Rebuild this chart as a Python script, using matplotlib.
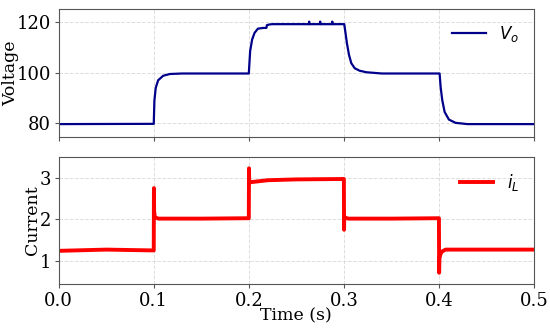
import matplotlib
matplotlib.use("Agg")
import matplotlib.pyplot as plt

# output voltage (time in s, volts)
v_time = [0.0, 0.1, 0.1007, 0.1021, 0.1046, 0.1099, 0.1169, 0.13, 0.2,
          0.2014, 0.2035, 0.206, 0.2095, 0.215, 0.2185, 0.219, 0.222, 0.225,
          0.2634, 0.2635, 0.2636, 0.275, 0.2751, 0.2752, 0.2877, 0.2878, 0.2879,
          0.3004, 0.3018, 0.3032, 0.3054, 0.3078, 0.3114, 0.3166, 0.3236, 0.34,
          0.4007, 0.4018, 0.4035, 0.406, 0.4105, 0.4175, 0.43, 0.5]
v_val = [79.6, 79.7, 89.0, 94.0, 97.0, 98.8, 99.5, 99.7, 99.7,
         108.6, 113.2, 115.8, 117.5, 117.8, 117.8, 118.9, 119.2, 119.3,
         119.3, 120.3, 119.3, 119.3, 120.3, 119.3, 119.3, 120.3, 119.3,
         119.3, 115.6, 111.7, 107.1, 103.8, 101.8, 100.8, 100.2, 99.7,
         99.7, 94.3, 89.1, 84.4, 81.4, 80.1, 79.6, 79.6]

# inductor current (A)
i_time = [0.0, 0.05, 0.1, 0.1002, 0.1004, 0.1012, 0.105, 0.15, 0.2,
          0.2002, 0.2004, 0.201, 0.22, 0.25, 0.3, 0.3002, 0.3004, 0.301,
          0.305, 0.35, 0.4, 0.4002, 0.4005, 0.4015, 0.403, 0.407, 0.45, 0.5]
i_val = [1.24, 1.27, 1.25, 2.76, 2.2, 2.05, 2.02, 2.02, 2.03,
         3.24, 2.95, 2.9, 2.95, 2.97, 2.98, 1.75, 2.08, 2.04,
         2.02, 2.02, 2.03, 0.71, 1.05, 1.15, 1.22, 1.27, 1.27, 1.27]

plt.rcParams['font.family'] = 'DejaVu Serif'
plt.rcParams['mathtext.fontset'] = 'dejavusans'

fig = plt.figure(figsize=(5.5, 3.3), dpi=100)
ax1 = fig.add_axes([0.1067, 0.5858, 0.8642, 0.386])
ax2 = fig.add_axes([0.1067, 0.1385, 0.8642, 0.3867], sharex=ax1)

ax1.plot(v_time, v_val, color='#00008b', lw=1.6, label='$V_o$')
ax2.plot(i_time, i_val, color='red', lw=2.8, label='$i_L$')

ax1.set_ylim(74.6, 125.2)
ax1.set_yticks([80, 100, 120])
ax1.set_ylabel('Voltage', fontsize=12.5)
ax1.yaxis.set_label_coords(-0.083, 0.5)
ax2.set_ylim(0.43, 3.52)
ax2.set_yticks([1, 2, 3])
ax2.set_ylabel('Current', fontsize=12.5)
ax2.yaxis.set_label_coords(-0.038, 0.5)
ax2.set_xlim(0, 0.5)
ax2.set_xticks([0.0, 0.1, 0.2, 0.3, 0.4, 0.5])
ax2.set_xlabel('Time (s)', fontsize=12.5)
ax2.xaxis.set_label_coords(0.5, -0.18)
plt.setp(ax1.get_xticklabels(), visible=False)

for ax in (ax1, ax2):
    ax.tick_params(labelsize=13, length=3, pad=2.5, color='#555555')
    ax.grid(True, ls='--', color='#dddddd', lw=0.7)
    for s in ax.spines.values():
        s.set_color('#555555')
    ax.legend(loc='upper right', frameon=False, fontsize=12,
              handlelength=2.0, handletextpad=0.8)

fig.savefig('out.png', dpi=100)
